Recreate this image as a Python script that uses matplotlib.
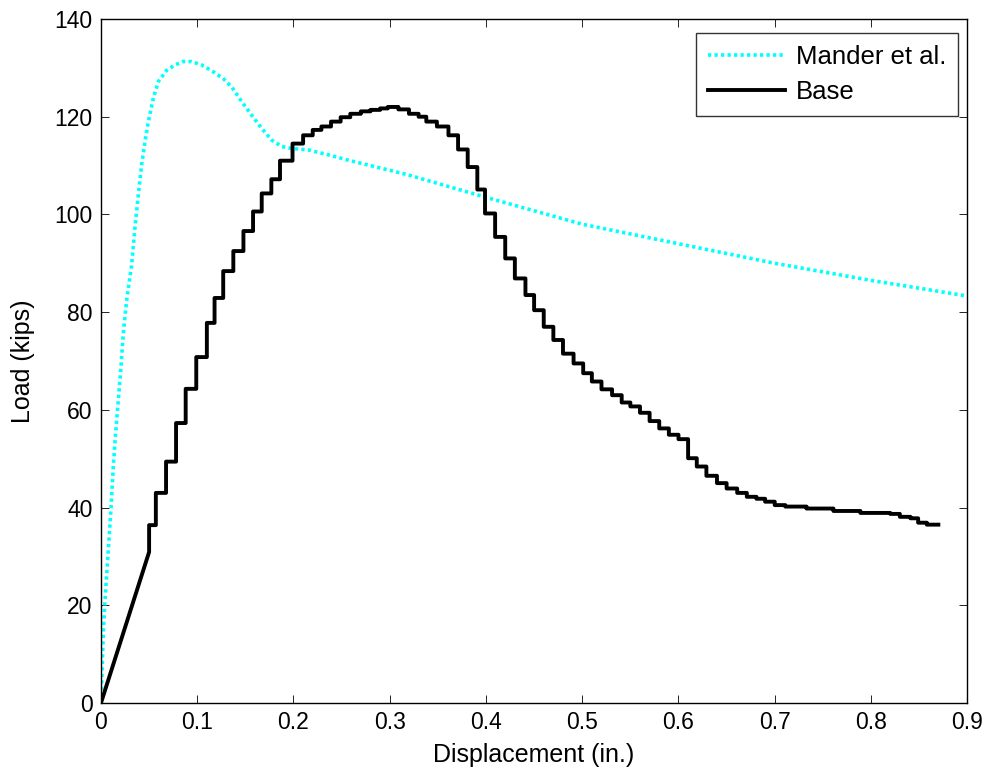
import numpy as np
import matplotlib
matplotlib.use('Agg')
import matplotlib.pyplot as plt

plt.rcParams['font.family'] = ['Liberation Sans', 'DejaVu Sans']

# Mander et al. model
mander_disp = [0, 0.0007, 0.0024, 0.0042, 0.0076, 0.0104, 0.0128, 0.0152, 0.018, 0.0208,
               0.0232, 0.0267, 0.0318, 0.0352, 0.0387, 0.0422, 0.0457, 0.0492, 0.0544, 0.0596,
               0.0682, 0.0769, 0.0855, 0.094, 0.1046, 0.1166, 0.127, 0.1358, 0.1462, 0.1566,
               0.167, 0.1774, 0.1878, 0.1982, 0.2155, 0.2363, 0.257, 0.2778, 0.2986, 0.319,
               0.4, 0.5, 0.6, 0.7, 0.8, 0.9]
mander_load = [0, 4.0, 14.2, 21.1, 31.3, 39.8, 48.4, 55.2, 62.0, 68.8,
               75.7, 82.5, 89.6, 97.1, 103.9, 110.1, 114.9, 119.0, 123.8, 127.2,
               129.5, 130.6, 131.3, 131.3, 130.6, 129.2, 127.8, 126.1, 123.1, 120.3,
               117.6, 115.2, 113.9, 113.5, 113.2, 112.2, 111.1, 110.1, 109.1, 108.1,
               103.5, 98.0, 94.0, 90.0, 86.5, 83.3]

# Base test: initial ramp then stepped record
ramp_disp, ramp_load = 0.0499, 30.9
base_step_disp = [0.050, 0.057, 0.0676, 0.078, 0.088, 0.099, 0.110, 0.118, 0.127, 0.1375,
                  0.148, 0.158, 0.167, 0.177, 0.186, 0.199, 0.210, 0.220, 0.229, 0.239,
                  0.249, 0.259, 0.270, 0.280, 0.290, 0.298, 0.309, 0.320, 0.330, 0.338,
                  0.349, 0.361, 0.371, 0.381, 0.391, 0.399, 0.4095, 0.420, 0.430, 0.441,
                  0.450, 0.460, 0.470, 0.480, 0.491, 0.501, 0.510, 0.520, 0.531, 0.541,
                  0.550, 0.560, 0.570, 0.580, 0.590, 0.600, 0.610, 0.619, 0.629, 0.640,
                  0.650, 0.661, 0.671, 0.681, 0.690, 0.700, 0.711, 0.733, 0.761, 0.789,
                  0.820, 0.830, 0.841, 0.849, 0.858]
base_step_load = [36.4, 43.0, 49.4, 57.3, 64.3, 70.8, 77.8, 82.9, 88.4, 92.5,
                  96.6, 100.6, 104.3, 107.2, 111.0, 114.5, 116.2, 117.3, 118.0, 119.0,
                  119.9, 120.6, 121.1, 121.4, 121.7, 122.0, 121.5, 120.6, 120.0, 119.0,
                  118.0, 116.2, 113.3, 109.7, 105.1, 100.2, 95.4, 91.0, 86.9, 83.5,
                  80.4, 77.0, 74.3, 71.5, 69.5, 67.5, 65.8, 64.2, 63.0, 61.5,
                  60.7, 59.4, 57.7, 56.2, 54.9, 54.0, 50.1, 48.4, 46.5, 45.0,
                  43.9, 43.0, 42.2, 41.8, 41.2, 40.5, 40.2, 39.8, 39.3, 38.9,
                  38.7, 38.1, 37.8, 36.9, 36.5]
base_end_disp = 0.870

# build stair path: vertical jump at each step, then flat to the next
prev = np.r_[ramp_load, base_step_load[:-1]]
bx = np.r_[0, ramp_disp, np.repeat(base_step_disp, 2), base_end_disp]
by = np.r_[0, ramp_load, np.column_stack([prev, base_step_load]).ravel(), base_step_load[-1]]

fig = plt.figure(figsize=(9.9, 7.73), dpi=100)
ax = fig.add_axes([0.102, 0.0906, 0.875, 0.8848])

ax.plot(mander_disp, mander_load, color='#00ffff', lw=2.6, linestyle=(0, (0.9, 0.9)),
        label='Mander et al.')
ax.plot(bx, by, color='black', lw=2.8, label='Base')

ax.set_xlim(0, 0.9)
ax.set_ylim(0, 140)
ax.set_xticks(np.arange(0, 0.91, 0.1))
ax.set_xticklabels(['0', '0.1', '0.2', '0.3', '0.4', '0.5', '0.6', '0.7', '0.8', '0.9'])
ax.set_yticks(np.arange(0, 141, 20))
ax.tick_params(direction='in', top=True, right=True, length=6, width=0.6,
               labelsize=16.5, pad=6)
for s in ax.spines.values():
    s.set_linewidth(1.0)

ax.set_xlabel('Displacement (in.)', fontsize=18, labelpad=6)
ax.set_ylabel('Load (kips)', fontsize=18, labelpad=14)

leg = ax.legend(loc='upper right', fontsize=18.5, frameon=True, fancybox=False,
                edgecolor='black', handlelength=3.0, borderpad=0.45, borderaxespad=0,
                bbox_to_anchor=(0.9896, 0.9795), labelspacing=0.45, handletextpad=0.45)
leg.get_frame().set_linewidth(1.0)

fig.savefig('out.png', dpi=100)
